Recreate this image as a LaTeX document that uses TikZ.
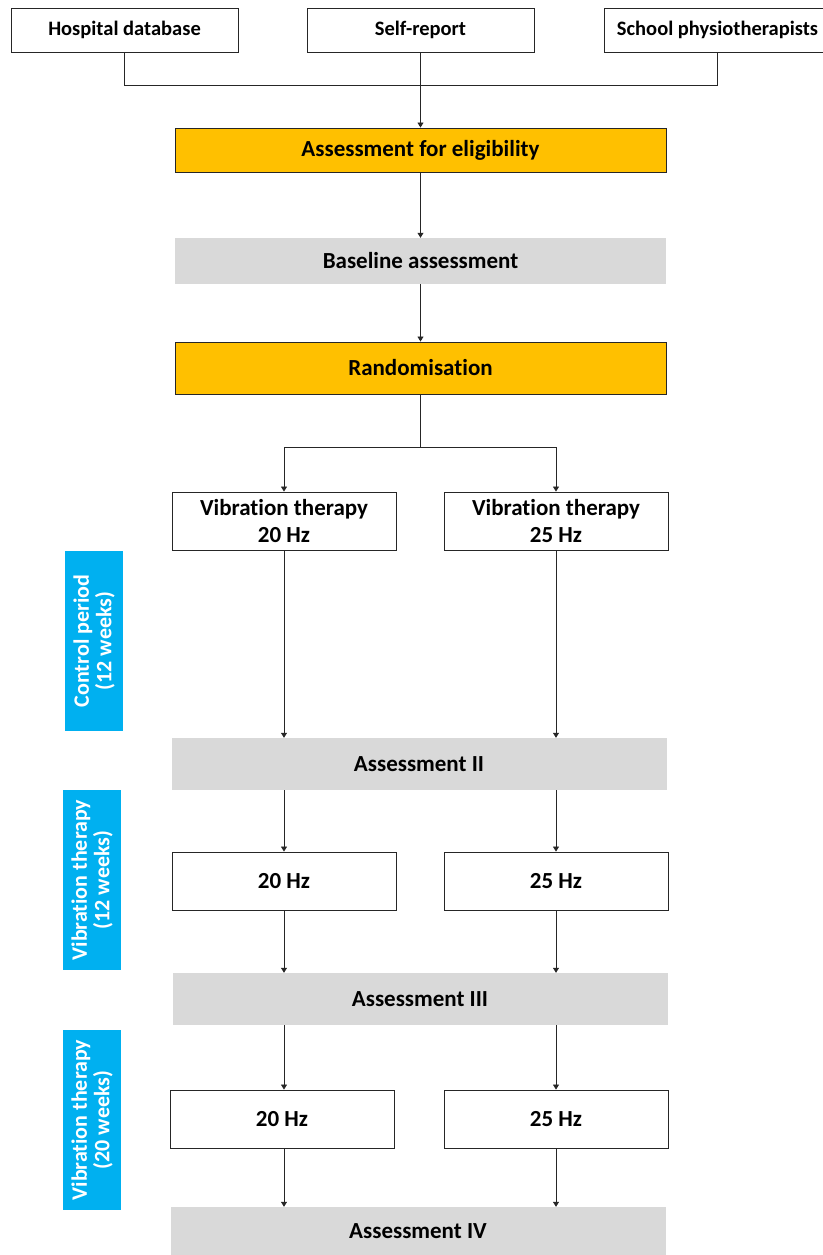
\documentclass[tikz,border=0pt]{standalone}
\usepackage{fontspec}
\setmainfont[RawFeature=-liga]{Carlito}
\usetikzlibrary{arrows.meta}
\definecolor{orangebox}{HTML}{FFC000}
\definecolor{greybox}{HTML}{D9D9D9}
\definecolor{bluebox}{HTML}{00B0F0}
\definecolor{lineclr}{HTML}{262626}
\begin{document}
\begin{tikzpicture}[x=1pt,y=-1pt,
  base/.style={inner sep=0pt, align=center, font=\bfseries\fontsize{23}{27}\selectfont},
  srcbox/.style={base, draw=lineclr, line width=0.9pt, fill=white, minimum width=227pt, minimum height=44pt, font=\bfseries\fontsize{20.5}{24}\selectfont},
  orangestep/.style={base, draw=lineclr, line width=0.9pt, fill=orangebox, minimum width=491pt},
  greystep/.style={base, fill=greybox, minimum width=495pt},
  armbox/.style={base, draw=lineclr, line width=0.9pt, fill=white, minimum width=224pt, minimum height=58pt},
  sidebox/.style={base, fill=bluebox, text=white, rotate=90, minimum width=180pt, minimum height=58pt, font=\bfseries\fontsize{22}{22.5}\selectfont},
  conn/.style={draw=lineclr, line width=0.8pt},
  arr/.style={conn, -{Triangle[length=5pt,width=6pt]}}]
\useasboundingbox (0,0) rectangle (822,1255);
\fill[white] (0,0) rectangle (822,1255);

% sources
\node[srcbox] (hosp) at (124.5,30) {Hospital database};
\node[srcbox] (self) at (420.5,30) {Self-report};
\node[srcbox] (school) at (717.5,30) {School physiotherapists};
\coordinate (join) at (420.5,85);

% main steps
\node[orangestep, minimum height=44pt] (elig) at (420.5,150) {Assessment for eligibility};
\node[greystep, minimum height=46pt, minimum width=491pt] (base) at (420.5,261) {Baseline assessment};
\node[orangestep, minimum height=52pt] (rand) at (420.5,368) {Randomisation};
\coordinate (split) at (420.5,447);

\node[armbox] (v20) at (284,521) {Vibration therapy\\20 Hz};
\node[armbox] (v25) at (556,521) {Vibration therapy\\25 Hz};

\node[greystep, minimum height=52pt] (a2) at (419,764) {Assessment II};
\node[armbox] (b20) at (284,881) {20 Hz};
\node[armbox] (b25) at (556,881) {25 Hz};
\node[greystep, minimum height=52pt] (a3) at (420,999) {Assessment III};
\node[armbox] (c20) at (282,1119) {20 Hz};
\node[armbox] (c25) at (556,1119) {25 Hz};
\node[greystep, minimum height=48pt] (a4) at (418,1231) {Assessment IV};

% side labels
\node[sidebox] (sideA) at (94,641) {Control period\\(12 weeks)};
\node[sidebox] (sideB) at (92,880) {Vibration therapy\\(12 weeks)};
\node[sidebox] (sideC) at (92,1120) {Vibration therapy\\(20 weeks)};

% connectors
\draw[conn] (hosp.south) -- (hosp.south |- join) -- (school.south |- join) -- (school.south);
\draw[arr] (self.south) -- (elig.north);
\draw[arr] (elig.south) -- (base.north);
\draw[arr] (base.south) -- (rand.north);
\draw[conn] (rand.south) -- (split);
\draw[arr] (split) -| (v20.north);
\draw[arr] (split) -| (v25.north);
\draw[arr] (v20.south) -- (v20.south |- a2.north);
\draw[arr] (v25.south) -- (v25.south |- a2.north);
\draw[arr] (b20.north |- a2.south) -- (b20.north);
\draw[arr] (b25.north |- a2.south) -- (b25.north);
\draw[arr] (b20.south) -- (b20.south |- a3.north);
\draw[arr] (b25.south) -- (b25.south |- a3.north);
\draw[arr] (b20.south |- a3.south) -- (b20.south |- c20.north);
\draw[arr] (c25.north |- a3.south) -- (c25.north);
\draw[arr] (b20.south |- c20.south) -- (b20.south |- a4.north);
\draw[arr] (c25.south) -- (c25.south |- a4.north);
\end{tikzpicture}
\end{document}
